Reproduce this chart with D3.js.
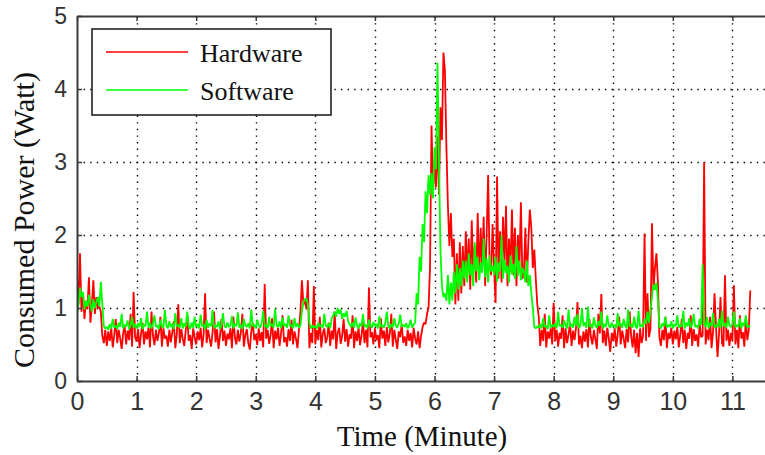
<!DOCTYPE html>
<html>
<head>
<meta charset="utf-8">
<script src="https://cdn.jsdelivr.net/npm/d3@7"></script>
<style>
  body { margin: 0; background: #fff; }
  svg { display: block; }
</style>
</head>
<body>
<svg id="chart" width="765" height="455"></svg>
<script>
// Power samples, one every 0.025 minute, starting at t = 0
const sampleStep = 0.025;

const hardware = [
  1.45,1.05,1.75,0.95,1.20,0.85,1.10,0.98,1.42,0.80,1.05,1.38,0.92,1.15,1.00,1.02,0.95,0.62,0.52,0.70,
  0.48,0.68,0.55,0.72,0.46,0.63,0.85,0.52,0.70,0.58,0.44,0.66,0.75,0.50,0.69,0.56,0.92,0.47,1.22,0.60,
  0.54,0.71,0.45,0.65,0.80,0.50,0.68,0.57,0.73,0.46,0.95,0.62,0.49,0.70,0.55,0.66,0.88,0.47,0.72,0.58,
  0.62,0.47,0.70,0.53,0.67,0.82,0.45,0.64,1.05,0.52,0.71,0.58,0.48,0.69,0.90,0.55,0.63,0.44,0.72,0.60,
  0.50,0.68,0.56,0.73,0.46,0.64,1.20,0.52,0.70,0.58,0.47,0.66,0.95,0.53,0.71,0.44,0.62,0.85,0.55,0.69,
  0.48,0.65,0.57,0.72,0.45,0.88,0.60,0.50,0.70,0.54,0.66,0.92,0.47,0.63,0.71,0.52,0.43,0.68,0.80,0.56,
  0.64,0.49,0.72,0.55,0.67,0.46,1.33,0.58,0.70,0.51,0.63,0.86,0.45,0.69,0.57,0.73,0.48,0.65,0.90,0.53,
  0.60,0.47,0.71,0.55,0.84,0.50,0.68,0.58,0.45,0.70,0.95,1.38,1.05,1.10,0.98,1.38,0.45,0.66,0.52,1.30,
  0.50,0.70,0.56,0.88,0.46,0.65,0.72,0.52,0.60,0.80,0.48,0.69,0.57,0.95,0.44,0.66,0.73,0.51,0.62,0.85,
  0.54,0.71,0.47,0.64,0.58,0.90,0.45,0.68,0.55,0.73,0.49,0.62,0.82,0.52,0.70,0.46,1.28,0.60,0.67,0.50,
  0.72,0.56,0.63,0.45,0.86,0.58,0.69,0.48,0.74,0.53,0.65,0.92,0.47,0.70,0.57,0.44,0.68,0.60,0.78,0.52,
  0.61,0.48,0.70,0.55,0.66,0.46,0.73,0.58,0.50,0.68,0.45,0.62,0.74,0.80,0.78,0.92,1.00,1.55,3.50,2.60,
  3.00,2.65,3.35,2.55,3.75,3.30,4.50,4.25,3.20,2.40,1.85,2.30,1.70,1.95,1.05,1.75,1.10,1.90,1.20,1.85,
  1.30,2.05,1.45,1.95,1.25,2.20,1.50,1.85,1.35,2.30,1.40,2.10,1.55,2.25,1.30,2.00,2.82,1.60,1.45,2.15,
  1.55,1.07,2.80,1.40,2.05,1.35,2.25,1.60,2.40,1.30,1.95,1.50,2.35,1.45,2.10,1.30,2.00,1.55,2.45,1.40,
  1.50,2.10,1.35,1.90,2.35,2.10,1.55,1.80,1.40,1.05,0.88,0.48,0.70,0.55,0.92,0.46,0.68,0.58,0.72,0.50,
  1.07,0.55,0.70,0.47,0.66,0.58,0.90,0.45,0.72,0.52,0.64,0.80,0.48,0.69,0.56,0.73,1.08,0.50,0.62,0.45,
  0.68,0.54,0.71,0.46,0.85,0.60,0.50,0.70,0.57,0.44,0.92,0.65,1.19,0.52,0.69,0.48,0.73,0.58,0.40,0.66,
  0.55,0.72,0.47,0.64,0.88,0.50,0.69,0.58,0.45,0.71,0.53,0.95,0.62,0.46,0.70,0.38,0.66,0.33,0.72,0.52,
  0.62,2.02,0.55,1.20,0.60,0.72,2.16,1.25,1.55,1.75,1.35,0.60,0.48,0.70,0.56,0.88,0.45,0.66,0.58,0.73,
  0.50,0.69,0.57,0.74,0.46,0.63,0.85,0.52,0.70,0.44,0.66,0.58,0.90,0.48,0.71,0.55,0.64,0.47,0.78,0.60,
  0.62,3.00,0.50,0.70,0.56,0.88,0.45,0.68,1.20,0.73,0.33,0.64,1.15,0.52,0.47,1.45,0.55,0.70,0.48,0.66,
  0.55,1.31,0.50,0.70,0.45,0.90,0.58,0.67,0.47,0.85,0.56,0.70,1.24
];

const software = [
  0.90,1.05,1.28,1.15,1.22,0.98,1.10,1.02,1.18,1.05,0.95,1.12,1.00,1.08,1.15,1.02,1.36,1.05,0.75,0.72,
  0.74,0.70,0.78,0.72,0.85,0.73,0.76,0.71,0.80,0.74,0.92,0.72,0.77,0.75,0.83,0.71,0.76,0.88,0.73,0.78,
  0.72,0.79,0.74,0.86,0.71,0.77,0.75,0.95,0.73,0.80,0.72,0.78,0.90,0.74,0.76,0.71,0.84,0.75,0.73,0.97,
  0.76,0.72,0.82,0.74,0.78,0.71,0.93,0.75,0.77,0.73,0.86,0.72,0.79,0.74,0.95,0.76,0.71,0.80,0.73,0.88,
  0.74,0.78,0.72,0.91,0.75,0.77,0.71,0.84,0.73,0.79,0.75,0.97,0.72,0.76,0.74,0.82,0.71,0.78,0.93,0.75,
  0.73,0.80,0.74,0.76,0.89,0.72,0.78,0.75,0.94,0.73,0.77,0.71,0.85,0.76,0.74,0.79,0.72,0.98,0.75,0.77,
  0.72,0.84,0.76,0.73,0.79,0.96,0.74,0.77,0.72,0.88,0.75,0.78,0.73,0.99,0.76,0.74,0.82,0.72,0.87,0.75,
  0.78,0.73,0.90,0.75,0.77,0.72,0.86,0.74,0.79,0.73,0.76,0.95,1.08,1.12,1.13,1.05,0.80,0.72,0.76,0.73,
  0.75,0.72,0.80,0.74,0.77,0.73,0.92,0.76,0.74,0.79,0.72,0.86,0.90,0.95,0.88,1.00,0.92,0.98,0.85,0.93,
  0.88,0.96,0.82,0.78,0.74,0.80,0.73,0.87,0.76,0.72,0.79,0.75,0.92,0.74,0.77,0.72,0.84,0.76,0.73,0.81,
  0.75,0.78,0.72,0.89,0.74,0.77,0.73,0.80,0.95,0.75,0.72,0.78,0.74,0.86,0.76,0.73,0.79,0.91,0.74,0.77,
  0.74,0.79,0.72,0.76,0.84,0.73,0.77,0.80,1.20,1.05,1.70,1.50,2.15,1.90,2.60,2.30,2.82,2.55,2.85,2.50,
  3.20,2.90,4.36,3.00,1.80,1.30,1.15,1.20,1.10,1.45,1.05,1.35,1.10,1.50,1.20,1.60,1.25,1.55,1.30,1.65,
  1.40,1.65,1.35,1.75,1.45,1.60,1.30,1.90,1.50,1.70,1.38,1.62,1.48,1.95,1.42,1.68,1.35,1.72,1.50,1.58,
  1.45,1.70,1.36,1.62,1.50,2.00,1.40,1.66,1.48,1.58,1.35,1.72,1.46,1.60,1.40,1.85,1.44,1.65,1.38,1.55,
  1.50,1.35,1.65,1.30,1.45,1.20,1.00,0.74,0.72,0.75,0.73,0.78,0.72,0.86,0.74,0.76,0.71,0.90,0.73,0.77,
  0.74,0.79,0.72,0.95,0.75,0.77,0.73,0.83,0.76,0.72,0.98,0.74,0.78,0.73,0.88,0.75,0.92,0.72,0.77,1.00,
  0.75,0.80,0.73,1.02,0.74,0.78,0.72,0.87,0.76,0.73,0.82,0.75,0.95,0.72,0.78,0.74,0.90,0.76,0.73,0.80,
  0.74,0.77,0.72,0.93,0.75,0.79,0.73,0.85,0.76,0.72,0.98,0.74,0.78,0.73,0.88,0.75,0.72,0.96,0.74,0.77,
  0.74,0.85,0.78,0.95,0.80,0.98,1.15,1.32,1.25,1.35,1.10,0.74,0.72,0.79,0.75,0.88,0.73,0.77,0.74,0.82,
  0.72,0.78,0.75,0.90,0.73,0.77,0.74,0.96,0.72,0.80,0.75,0.86,0.73,0.78,0.92,0.74,0.76,0.72,0.85,0.77,
  1.60,0.78,0.74,0.88,0.72,0.80,0.75,0.93,0.73,0.77,0.74,0.85,0.72,0.96,0.75,0.79,0.73,0.88,0.76,0.74,
  0.78,0.95,0.73,0.77,0.74,0.86,0.72,0.80,0.75,0.90,0.73,0.76,0.74
];

const xTickValues = [0, 1, 2, 3, 4, 5, 6, 7, 8, 9, 10, 11];
const yTickValues = [0, 1, 2, 3, 4, 5];
const seriesNames = ["Hardware", "Software"];
const seriesColors = ["#ff0000", "#00ff00"];
const xTitle = "Time (Minute)";
const yTitle = "Consumed Power (Watt)";

const svg = d3.select("#chart");
const plot = { left: 77, top: 16, bottom: 381, right: 792 };

const x = d3.scaleLinear().domain([0, 12]).range([plot.left, plot.right]);
const y = d3.scaleLinear().domain([0, 5]).range([plot.bottom, plot.top]);

svg.append("defs").append("clipPath").attr("id", "plot-clip")
  .append("rect")
  .attr("x", plot.left).attr("y", plot.top)
  .attr("width", plot.right - plot.left).attr("height", plot.bottom - plot.top);

// dotted grid
const grid = svg.append("g").attr("stroke", "#000").attr("stroke-width", 1.4)
  .attr("stroke-dasharray", "1.4,5.2").attr("fill", "none");
grid.selectAll("line.gx").data(xTickValues.filter(d => d > 0)).join("line")
  .attr("class", "gx")
  .attr("x1", d => Math.round(x(d)) + 0.5).attr("x2", d => Math.round(x(d)) + 0.5)
  .attr("y1", plot.bottom).attr("y2", plot.top);
grid.selectAll("line.gy").data(yTickValues.filter(d => d > 0 && d < 5)).join("line")
  .attr("class", "gy")
  .attr("y1", d => Math.round(y(d)) + 0.5).attr("y2", d => Math.round(y(d)) + 0.5)
  .attr("x1", plot.left).attr("x2", plot.right);

// power traces
const line = d3.line()
  .x((d, i) => x(i * sampleStep))
  .y(d => y(d));

const traces = svg.append("g").attr("clip-path", "url(#plot-clip)");
[hardware, software].forEach((series, k) => {
  traces.append("path")
    .datum(series)
    .attr("fill", "none")
    .attr("stroke", seriesColors[k])
    .attr("stroke-width", 1.8)
    .attr("stroke-linejoin", "bevel")
    .attr("d", line);
});

// axes with inward ticks
function styleAxis(g) {
  g.select(".domain").attr("stroke", "#3a3a3a").attr("stroke-width", 2);
  g.selectAll(".tick line").attr("stroke", "#3a3a3a").attr("stroke-width", 1.5);
  g.selectAll(".tick text")
    .attr("fill", "#333")
    .style("font-family", "'Liberation Sans', Arial, sans-serif");
}

svg.append("g")
  .attr("transform", `translate(0,${plot.bottom})`)
  .call(d3.axisBottom(x).tickValues(xTickValues).tickFormat(d3.format("d"))
    .tickSizeInner(-5).tickSizeOuter(0).tickPadding(11))
  .call(styleAxis)
  .call(g => g.selectAll(".tick text").style("font-size", "25px"));

svg.append("g")
  .attr("transform", `translate(0,${plot.top})`)
  .call(d3.axisTop(x).tickValues(xTickValues).tickFormat("")
    .tickSizeInner(-5).tickSizeOuter(0))
  .call(styleAxis);

svg.append("g")
  .attr("transform", `translate(${plot.left},0)`)
  .call(d3.axisLeft(y).tickValues(yTickValues).tickFormat(d3.format("d"))
    .tickSizeInner(-5).tickSizeOuter(0).tickPadding(10))
  .call(styleAxis)
  .call(g => g.selectAll(".tick text").style("font-size", "23px"));

// axis titles
const serif = "'Liberation Serif', 'Times New Roman', serif";
svg.append("text")
  .attr("x", 422).attr("y", 446)
  .attr("text-anchor", "middle")
  .style("font-family", serif).style("font-size", "29px")
  .attr("fill", "#111")
  .text(xTitle);

svg.append("text")
  .attr("transform", "translate(34,220) rotate(-90)")
  .attr("text-anchor", "middle")
  .style("font-family", serif).style("font-size", "30px")
  .attr("fill", "#111")
  .text(yTitle);

// legend
const legend = svg.append("g");
legend.append("rect")
  .attr("x", 92).attr("y", 29).attr("width", 239).attr("height", 86)
  .attr("fill", "#fff").attr("stroke", "#222").attr("stroke-width", 1.6);
seriesNames.forEach((name, k) => {
  const ly = 52 + k * 38;
  legend.append("line")
    .attr("x1", 106).attr("x2", 188).attr("y1", ly).attr("y2", ly)
    .attr("stroke", seriesColors[k]).attr("stroke-width", 1.5);
  legend.append("text")
    .attr("x", 200).attr("y", ly + 10)
    .style("font-family", serif).style("font-size", "26px")
    .attr("fill", "#111")
    .text(name);
});
</script>
</body>
</html>
